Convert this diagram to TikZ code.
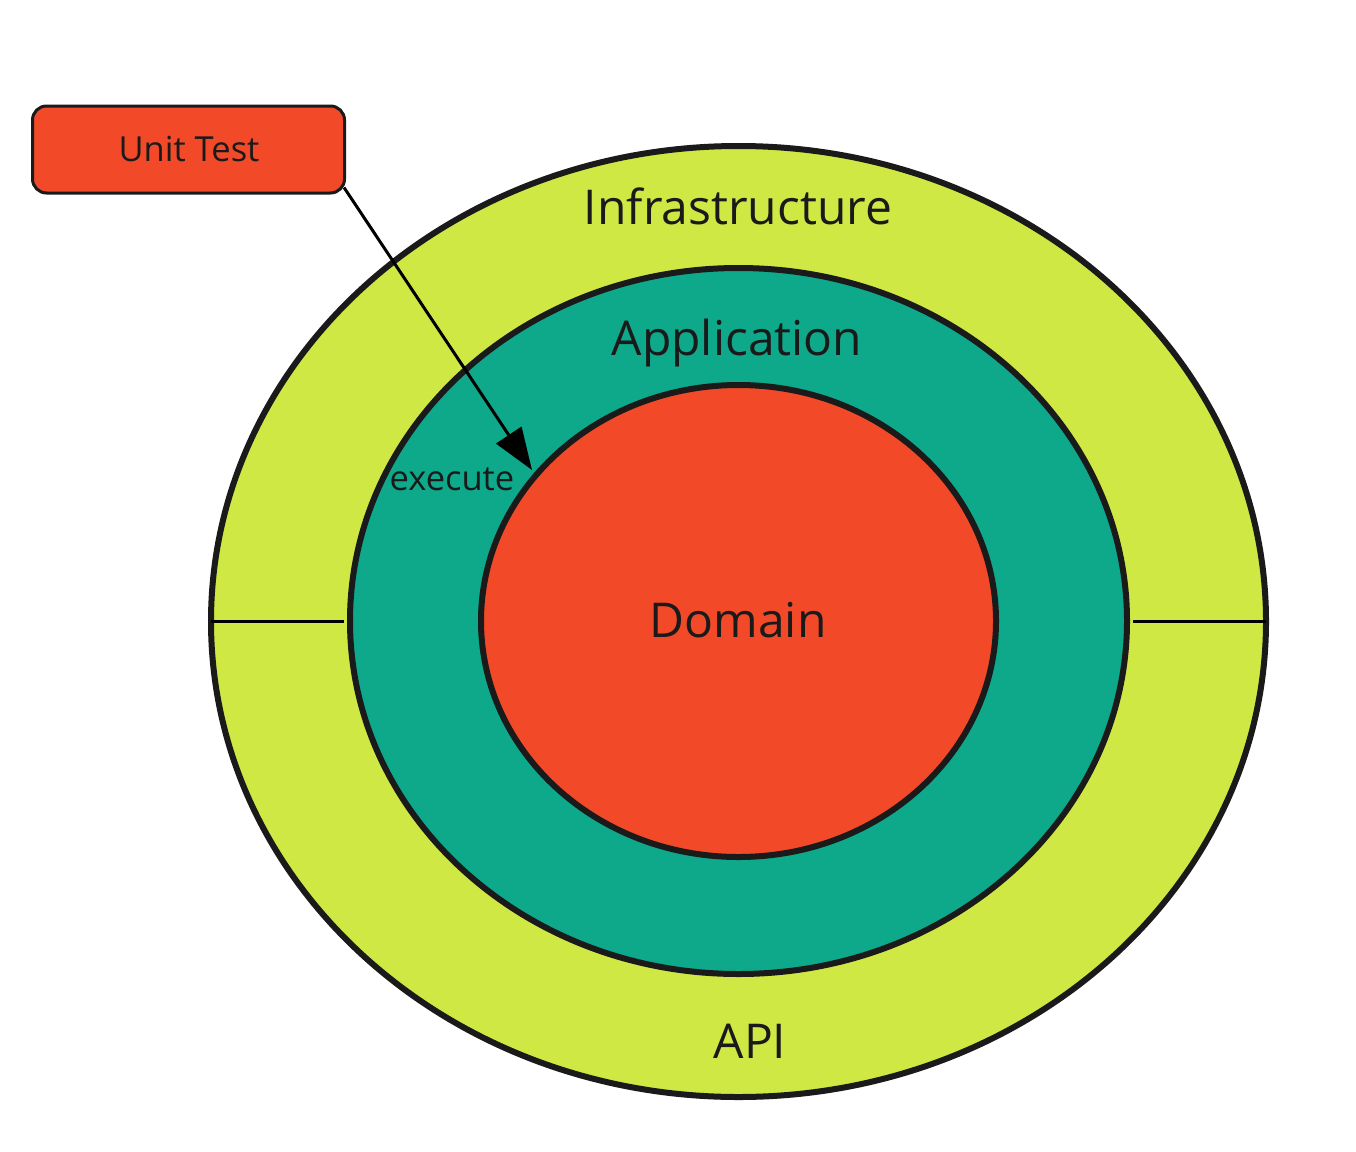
\documentclass[tikz,border=0pt]{standalone}
\usepackage{fontspec}
\setmainfont{Open Sans}
\usetikzlibrary{arrows.meta}
\definecolor{lime}{HTML}{CFE844}
\definecolor{teal2}{HTML}{0EA88A}
\definecolor{red2}{HTML}{F24A28}
\definecolor{ink}{HTML}{1A1A1A}
\tikzset{
  ring/.style={draw=ink, line width=6pt},
  big/.style={text=ink, font=\fontsize{48}{50}\selectfont, inner sep=0pt},
  small/.style={text=ink, font=\fontsize{34.5}{36}\selectfont, inner sep=0pt},
  divider/.style={draw=black, line width=3pt},
  box/.style={draw=ink, line width=3pt, fill=red2, rounded corners=14pt, minimum width=312pt, minimum height=87pt, inner sep=0pt},
  conn/.style={draw=black, line width=3pt, -{Triangle[length=42pt,width=30pt]}}
}
\begin{document}
\begin{tikzpicture}[x=1pt,y=-1pt]
\useasboundingbox (0,0) rectangle (1356,1151);
\fill[white] (0,0) rectangle (1356,1151);
% rings
\path[ring, fill=lime] (738.5,621.5) ellipse [x radius=527.5, y radius=475.5];
\coordinate (oL) at (211,621);
\coordinate (oR) at (1266,621);
\coordinate (mL) at (344,621);
\coordinate (mR) at (1133,621);
\draw[divider] (oL) -- (mL);
\draw[divider] (mR) -- (oR);
\path[ring, fill=teal2] (738.5,621) ellipse [x radius=388.5, y radius=353];
\path[ring, fill=red2] (738.5,621) ellipse [x radius=257.5, y radius=236];
% labels
\node[big] (infra) at (738,206) {Infrastructure};
\node[big] (app) at (737,343) {Application};
\node[big] (dom) at (738,620) {Domain};
\node[big] (api) at (750,1041) {API};
% unit test
\node[box] (ut) at (188.5,149.5) {};
\node[small] (utl) at (189,149) {Unit Test};
\coordinate (tip) at (532,470);
\draw[conn] ([xshift=-2pt,yshift=7pt]ut.south east) -- (tip);
\node[small] (exe) at (452,479) {execute};
\end{tikzpicture}
\end{document}
